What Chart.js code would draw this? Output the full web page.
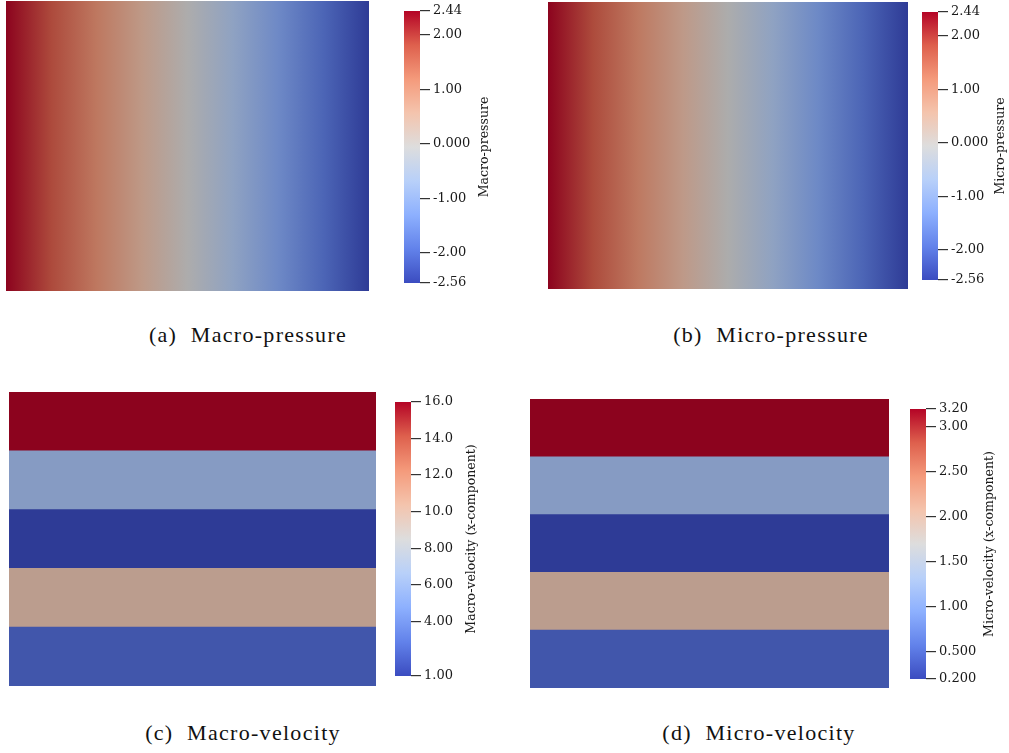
<!DOCTYPE html>
<html lang="en">
  <head>
    <meta charset="UTF-8" />
    <title>Macro / micro pressure and velocity</title>
    <script src="https://cdn.jsdelivr.net/npm/chart.js"></script>
    <style>
      body { margin: 0; background: #fff; }
      #page { position: relative; width: 1009px; height: 753px; overflow: hidden; }
      canvas { position: absolute; }
      .cap {
        position: absolute; width: 300px; text-align: center; white-space: pre;
        font-family: "Liberation Serif", serif; font-size: 22px; letter-spacing: 1.3px;
        color: #111; line-height: 24px;
      }
    </style>
  </head>
  <body>
    <div id="page">
      <canvas id="heatA" style="left:6px;top:1px" width="363" height="290"></canvas>
      <canvas id="barA" style="left:404px;top:0px" width="100" height="300"></canvas>
      <canvas id="heatB" style="left:548px;top:2px" width="360" height="287"></canvas>
      <canvas id="barB" style="left:922px;top:0px" width="87" height="300"></canvas>
      <canvas id="heatC" style="left:9px;top:392px" width="367" height="294"></canvas>
      <canvas id="barC" style="left:395px;top:390px" width="100" height="300"></canvas>
      <canvas id="heatD" style="left:530px;top:399px" width="359" height="289"></canvas>
      <canvas id="barD" style="left:910px;top:395px" width="99" height="300"></canvas>

      <div class="cap" style="left:98px;top:323px">(a)  Macro-pressure</div>
      <div class="cap" style="left:621px;top:323px">(b)  Micro-pressure</div>
      <div class="cap" style="left:93px;top:721px">(c)  Macro-velocity</div>
      <div class="cap" style="left:609px;top:721px">(d)  Micro-velocity</div>
    </div>

    <script>
      // positions across the domain (0 = left edge, 1 = right edge)
      const pressureX = [0, 0.125, 0.25, 0.375, 0.5, 0.625, 0.75, 0.875, 1];
      const macroPressure = [2.44, 1.82, 1.19, 0.56, -0.05, -0.69, -1.31, -1.94, -2.56];
      const microPressure = [2.44, 1.81, 1.18, 0.55, -0.06, -0.70, -1.32, -1.94, -2.56];

      // horizontal layers, top to bottom
      const layers = ["layer 1", "layer 2", "layer 3", "layer 4", "layer 5"];
      const macroVelocity = [16.0, 6.1, 1.0, 10.0, 2.2];
      const microVelocity = [3.20, 1.22, 0.20, 2.00, 0.44];

      const pressureRange = [-2.56, 2.44];
      const macroVelRange = [1.0, 16.0];
      const microVelRange = [0.2, 3.2];

      const pressureTicks = [2.44, 2.0, 1.0, 0.0, -1.0, -2.0, -2.56];
      const pressureTickLabels = ["2.44", "2.00", "1.00", "0.000", "-1.00", "-2.00", "-2.56"];
      const macroVelTicks = [16, 14, 12, 10, 8, 6, 4, 1];
      const macroVelTickLabels = ["16.0", "14.0", "12.0", "10.0", "8.00", "6.00", "4.00", "1.00"];
      const microVelTicks = [3.2, 3.0, 2.5, 2.0, 1.5, 1.0, 0.5, 0.2];
      const microVelTickLabels = ["3.20", "3.00", "2.50", "2.00", "1.50", "1.00", "0.500", "0.200"];

      // cool to warm colour map
      const cmapStops = [0, 0.125, 0.25, 0.375, 0.5, 0.625, 0.75, 0.875, 1];
      const cmapColors = [
        [59, 76, 192], [98, 130, 234], [141, 176, 254], [184, 208, 249], [221, 221, 221],
        [244, 196, 173], [244, 154, 123], [222, 96, 77], [180, 4, 38],
      ];
      const shade = 0.78; // the rendered surfaces are a bit darker than the legend

      function coolwarm(t, k = 1) {
        t = Math.min(1, Math.max(0, t));
        let i = 0;
        while (i < cmapStops.length - 2 && t > cmapStops[i + 1]) i++;
        const f = (t - cmapStops[i]) / (cmapStops[i + 1] - cmapStops[i]);
        const c = cmapColors[i].map((a, j) => Math.round((a + (cmapColors[i + 1][j] - a) * f) * k));
        return `rgb(${c[0]}, ${c[1]}, ${c[2]})`;
      }

      const norm = (v, r) => (v - r[0]) / (r[1] - r[0]);

      const sideTitle = {
        id: "sideTitle",
        afterDraw(chart, args, opts) {
          if (!opts.text) return;
          const { ctx, chartArea } = chart;
          ctx.save();
          ctx.translate(opts.x, (chartArea.top + chartArea.bottom) / 2);
          ctx.rotate(-Math.PI / 2);
          ctx.font = '12.5px "DejaVu Serif"';
          ctx.fillStyle = "#1a1a1a";
          ctx.textAlign = "center";
          ctx.textBaseline = "middle";
          ctx.fillText(opts.text, 0, 0);
          ctx.restore();
        },
      };
      Chart.register(sideTitle);

      const hidden = { display: false };

      function baseOptions() {
        return {
          responsive: false,
          devicePixelRatio: 1,
          animation: false,
          events: [],
          plugins: { legend: hidden, tooltip: { enabled: false } },
        };
      }

      // pressure field: one block filled with a gradient through the sampled values
      function pressureMap(id, values) {
        new Chart(document.getElementById(id), {
          type: "bar",
          data: {
            labels: ["domain"],
            datasets: [
              {
                data: [[0, 1]],
                borderWidth: 0,
                barPercentage: 1,
                categoryPercentage: 1,
                backgroundColor: (c) => {
                  const chart = c.chart;
                  if (!chart.chartArea) return "#ccc";
                  const xs = chart.scales.x;
                  const g = chart.ctx.createLinearGradient(xs.getPixelForValue(0), 0, xs.getPixelForValue(1), 0);
                  pressureX.forEach((p, i) => g.addColorStop(p, coolwarm(norm(values[i], pressureRange), shade)));
                  return g;
                },
              },
            ],
          },
          options: {
            ...baseOptions(),
            indexAxis: "y",
            layout: { padding: 0 },
            scales: {
              x: { type: "linear", min: 0, max: 1, display: false },
              y: { display: false },
            },
          },
        });
      }

      // velocity field: horizontal layers coloured by value
      function velocityMap(id, values, range) {
        new Chart(document.getElementById(id), {
          type: "bar",
          data: {
            labels: layers,
            datasets: [
              {
                data: values.map(() => [0, 1]),
                borderWidth: 0,
                barPercentage: 1,
                categoryPercentage: 1,
                backgroundColor: values.map((v) => coolwarm(norm(v, range), shade)),
              },
            ],
          },
          options: {
            ...baseOptions(),
            indexAxis: "y",
            layout: { padding: 0 },
            scales: {
              x: { type: "linear", min: 0, max: 1, display: false },
              y: { display: false },
            },
          },
        });
      }

      // colour legend with ticks on the right
      function colorBar(id, range, ticks, labels, title, pad, axisWidth, titleX) {
        new Chart(document.getElementById(id), {
          type: "bar",
          data: {
            labels: ["bar"],
            datasets: [
              {
                data: [range],
                borderWidth: 0,
                barPercentage: 1,
                categoryPercentage: 1,
                backgroundColor: (c) => {
                  const chart = c.chart;
                  if (!chart.chartArea) return "#ccc";
                  const ys = chart.scales.y;
                  const g = chart.ctx.createLinearGradient(0, ys.getPixelForValue(range[0]), 0, ys.getPixelForValue(range[1]));
                  cmapStops.forEach((t) => g.addColorStop(t, coolwarm(t)));
                  return g;
                },
              },
            ],
          },
          options: {
            ...baseOptions(),
            layout: { padding: { top: pad[0], bottom: pad[1], left: 0, right: 0 } },
            scales: {
              x: { display: false },
              y: {
                position: "right",
                min: range[0],
                max: range[1],
                afterBuildTicks: (s) => { s.ticks = ticks.map((v) => ({ value: v })); },
                afterFit: (s) => { s.width = axisWidth; },
                border: { display: false },
                grid: { drawOnChartArea: false, drawTicks: true, tickLength: 10, color: "#333", lineWidth: 1.2 },
                ticks: {
                  autoSkip: false,
                  padding: 3,
                  color: "#1a1a1a",
                  font: { family: "DejaVu Serif", size: 13 },
                  callback: (v, i) => labels[i],
                },
              },
            },
            plugins: {
              ...baseOptions().plugins,
              sideTitle: { text: title, x: titleX },
            },
          },
        });
      }

      pressureMap("heatA", macroPressure);
      pressureMap("heatB", microPressure);
      velocityMap("heatC", macroVelocity, macroVelRange);
      velocityMap("heatD", microVelocity, microVelRange);

      colorBar("barA", pressureRange, pressureTicks, pressureTickLabels, "Macro-pressure", [11, 17], 84, 81);
      colorBar("barB", pressureRange, pressureTicks, pressureTickLabels, "Micro-pressure", [12, 20], 71, 79);
      colorBar("barC", macroVelRange, macroVelTicks, macroVelTickLabels, "Macro-velocity (x-component)", [12, 14], 84, 77);
      colorBar("barD", microVelRange, microVelTicks, microVelTickLabels, "Micro-velocity (x-component)", [14, 16], 83, 80);
    </script>
  </body>
</html>
